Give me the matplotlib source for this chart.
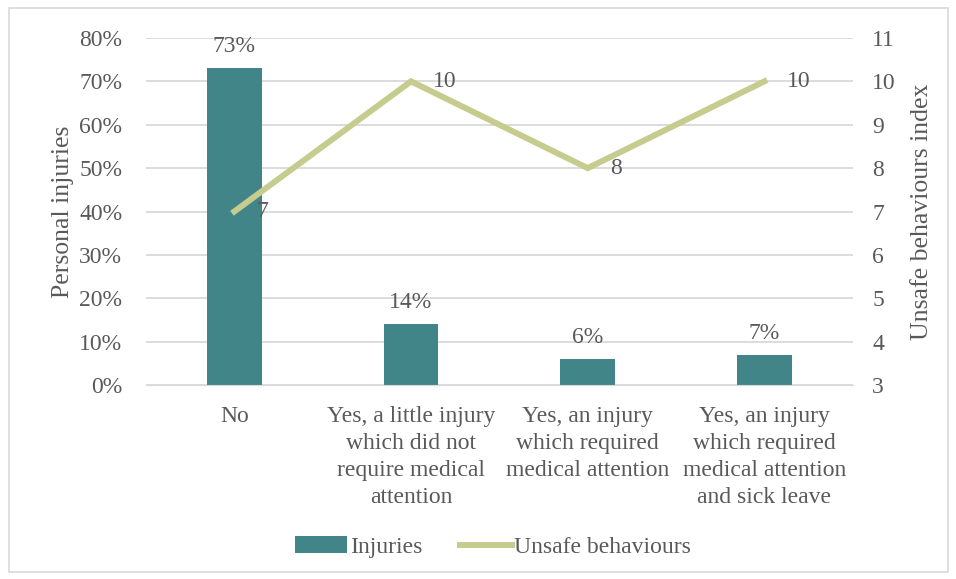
import matplotlib.pyplot as plt
from matplotlib.patches import Rectangle

categories = [
    "No",
    "Yes, a little injury\nwhich did not\nrequire medical\nattention",
    "Yes, an injury\nwhich required\nmedical attention",
    "Yes, an injury\nwhich required\nmedical attention\nand sick leave",
]
injuries = [73, 14, 6, 7]
unsafe = [7, 10, 8, 10]

BAR_COLOR = "#418588"
LINE_COLOR = "#c5cc8e"
TEXT_COLOR = "#595959"
GRID_COLOR = "#d9d9d9"
FS = 17
LABEL_FS = 18.5

plt.rcParams["font.family"] = ["Liberation Serif", "DejaVu Serif"]
plt.rcParams["font.size"] = FS

fig = plt.figure(figsize=(9.56, 5.79), dpi=100)
ax = fig.add_axes([0.1527, 0.335, 0.7393, 0.5994])
ax2 = ax.twinx()

x = list(range(len(categories)))
bars = ax.bar(x, injuries, width=0.31, color=BAR_COLOR, label="Injuries", zorder=2)
line, = ax2.plot(x, unsafe, color=LINE_COLOR, lw=4.3, label="Unsafe behaviours",
                 solid_joinstyle="miter", zorder=3)

ax.set_xlim(-0.5, len(categories) - 0.5)
ax.set_ylim(0, 80)
ax.set_yticks(range(0, 81, 10))
ax.set_yticklabels([f"{v}%" for v in range(0, 81, 10)])
ax2.set_ylim(3, 11)
ax2.set_yticks(range(3, 12))

ax.set_xticks(x)
ax.set_xticklabels(categories, linespacing=1.37, va="top")
ax.grid(axis="y", color=GRID_COLOR, lw=1.3, zorder=0)
ax.set_axisbelow(True)

for a in (ax, ax2):
    for s in a.spines.values():
        s.set_visible(False)
    a.tick_params(length=0, colors=TEXT_COLOR, labelsize=FS)
ax.spines["bottom"].set_visible(True)
ax.spines["bottom"].set_color(GRID_COLOR)
ax.tick_params(axis="x", pad=15)
ax.tick_params(axis="y", pad=17)
ax2.tick_params(axis="y", pad=14)

ax.set_ylabel("Personal injuries", color=TEXT_COLOR, fontsize=LABEL_FS, labelpad=4)
ax2.set_ylabel("Unsafe behaviours index", color=TEXT_COLOR, fontsize=LABEL_FS, labelpad=11)

for xi, v in zip(x, injuries):
    ax.annotate(f"{v}%", (xi, v), xytext=(0, 8), textcoords="offset points",
                ha="center", va="bottom", color=TEXT_COLOR)
for xi, v in zip(x, unsafe):
    ax2.annotate(f"{v}", (xi, v), xytext=(16, 0), textcoords="offset points",
                 ha="left", va="center", color=TEXT_COLOR)

fig.legend([bars, line], ["Injuries", "Unsafe behaviours"], loc="center",
           bbox_to_anchor=(0.516, 0.055), ncol=2, frameon=False,
           handlelength=2.2, handletextpad=0.1, columnspacing=1.6,
           labelcolor=TEXT_COLOR, fontsize=FS)

fig.patches.append(Rectangle((0.009, 0.012), 0.983, 0.974, transform=fig.transFigure,
                             fill=False, edgecolor="#d9d9d9", lw=1.2))

fig.savefig("out.png", dpi=100)
